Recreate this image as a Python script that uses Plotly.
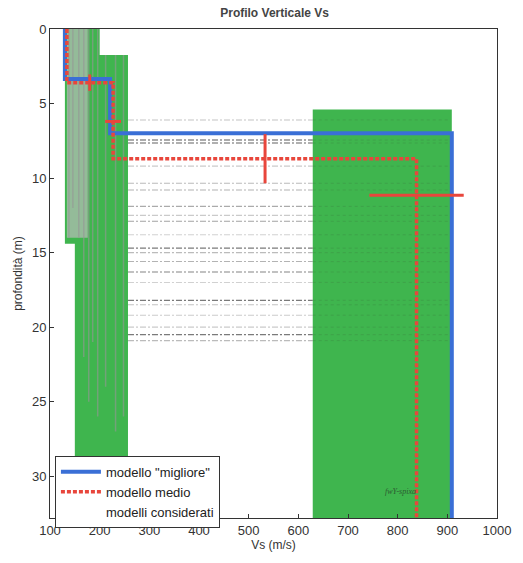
import plotly.graph_objects as go

# ---- data ----
# best model ("migliore"): layer Vs (m/s) and interface depths (m)
best_vs = [130, 221, 909]
best_depths = [3.35, 7.0]
# mean model ("medio")
mean_vs = [134, 227, 838]
mean_depths = [3.6, 8.7]
# uncertainty crosses on the mean model: centre Vs, centre depth, ±Vs, ±depth
err_vs = [180, 227, 533, 838]
err_depth = [3.6, 6.2, 8.7, 11.15]
err_dvs = [0, 16, 0, 95]
err_ddepth = [0.55, 0, 1.65, 0]
# envelopes of the considered models (polygons: Vs list, depth list)
env_left_vs = [130, 200, 200, 257, 257, 150, 150, 130]
env_left_depth = [0, 0, 1.75, 1.75, 32.8, 32.8, 14.4, 14.4]
env_right_vs = [629, 909, 909, 629]
env_right_depth = [5.4, 5.4, 32.8, 32.8]
# interfaces of the considered models (depth, darkness 0..1)
iface_depth = [6.1, 7.45, 7.65, 9.2, 10.35, 10.8, 11.9, 12.5, 12.9, 13.8,
               14.7, 15.0, 15.6, 16.3, 17.0, 18.2, 18.5, 19.2, 20.0, 20.5, 20.9]
iface_dark = [0.35, 0.9, 0.85, 0.3, 0.4, 0.45, 0.5, 0.3, 0.55, 0.25,
              0.75, 0.4, 0.45, 0.7, 0.25, 0.75, 0.35, 0.3, 0.3, 0.75, 0.4]
# shallow layers of the considered models (Vs, depth top, depth bottom)
shallow_vs = [138, 146, 158, 168, 178, 186, 196, 212, 232, 248]
shallow_top = [0, 0, 0, 0, 0, 0, 0, 1.75, 1.75, 1.75]
shallow_bottom = [14.0, 12.0, 14.0, 22.0, 25.0, 21.0, 26.0, 24.0, 27.0, 26.0]

x_ticks = [100, 200, 300, 400, 500, 600, 700, 800, 900, 1000]
y_ticks = [0, 5, 10, 15, 20, 25, 30]
y_max = 32.8
x_min, x_max = 100, 1000


def step(vs, depths, bottom):
    xs, ys = [], []
    tops = [0] + depths
    bots = depths + [bottom]
    for v, t, b in zip(vs, tops, bots):
        xs += [v, v]
        ys += [t, b]
    return xs, ys


GREEN = "#3fb54e"
fig = go.Figure()

# considered-model envelopes
fig.add_trace(go.Scatter(x=env_left_vs, y=env_left_depth, fill="toself", fillcolor=GREEN,
                         line=dict(width=0), mode="lines", showlegend=False, hoverinfo="skip"))
fig.add_trace(go.Scatter(x=env_right_vs, y=env_right_depth, fill="toself", fillcolor=GREEN,
                         line=dict(width=0), mode="lines", showlegend=False, hoverinfo="skip"))
# grey overlap in the shallow band
fig.add_trace(go.Scatter(x=[134, 176, 176, 134], y=[0, 0, 14.0, 14.0], fill="toself",
                         fillcolor="rgba(185,190,185,0.7)", line=dict(width=0), mode="lines",
                         showlegend=False, hoverinfo="skip"))
for v, t, b in zip(shallow_vs, shallow_top, shallow_bottom):
    fig.add_trace(go.Scatter(x=[v, v], y=[t, b], mode="lines",
                             line=dict(color="rgba(150,150,150,0.6)", width=1.5),
                             showlegend=False, hoverinfo="skip"))
# interfaces of considered models
for d, k in zip(iface_depth, iface_dark):
    g = int(190 - 150 * k)
    fig.add_trace(go.Scatter(x=[257, 629], y=[d, d], mode="lines",
                             line=dict(color=f"rgba({g},{g},{g},{0.3 + 0.6 * k})", width=1.1,
                                       dash="6px,2px,2px,2px"),
                             showlegend=False, hoverinfo="skip"))
    fig.add_trace(go.Scatter(x=[629, 905], y=[d, d], mode="lines",
                             line=dict(color="rgba(60,110,60,0.25)", width=1, dash="dot"),
                             showlegend=False, hoverinfo="skip"))

# best model
bx, by = step(best_vs, best_depths, y_max)
fig.add_trace(go.Scatter(x=bx, y=by, mode="lines", name='modello "migliore"',
                         line=dict(color="#3a6fd6", width=4)))
# mean model
mx, my = step(mean_vs, mean_depths, y_max)
fig.add_trace(go.Scatter(x=mx, y=my, mode="lines", name="modello medio",
                         line=dict(color="#e8463c", width=3.5, dash="4px,2px")))
# considered models legend entry (no visible line)
fig.add_trace(go.Scatter(x=[None], y=[None], mode="lines", name="modelli considerati",
                         line=dict(color="rgba(255,255,255,0)", width=2)))
# uncertainty crosses
fig.add_trace(go.Scatter(x=err_vs, y=err_depth, mode="markers", marker=dict(size=1, color="#e8463c"),
                         error_x=dict(type="data", array=err_dvs, color="#e8463c", thickness=3, width=0),
                         error_y=dict(type="data", array=err_ddepth, color="#e8463c", thickness=3, width=0),
                         showlegend=False, hoverinfo="skip"))

fig.add_annotation(x=805, y=31.0, text="<i>fwY-spixa</i>", showarrow=False,
                   font=dict(size=8, color="#2c5a30", family="Liberation Serif"),
                   xanchor="center")

axis_common = dict(showline=True, linecolor="#333", linewidth=1, mirror=True, ticks="inside",
                   ticklen=4, tickcolor="#333", showgrid=False, zeroline=False,
                   tickfont=dict(size=13, color="#333"))
fig.update_xaxes(range=[x_min, x_max], tickvals=x_ticks, title=dict(text="Vs (m/s)", standoff=3,
                 font=dict(size=12, color="#333")), **axis_common)
fig.update_yaxes(range=[y_max, 0], tickvals=y_ticks, title=dict(text="profondità (m)", standoff=6,
                 font=dict(size=12, color="#333")), **axis_common)

fig.update_layout(
    width=523, height=563,
    margin=dict(l=50, r=26, t=29, b=45),
    paper_bgcolor="white", plot_bgcolor="white",
    font=dict(family="Liberation Sans, Arial, sans-serif", color="#333"),
    title=dict(text="<b>Profilo Verticale Vs</b>", x=0.525, xanchor="center", y=0.977, yanchor="middle",
               font=dict(size=12, color="#444")),
    legend=dict(x=0.011, y=0.127, xanchor="left", yanchor="top", bgcolor="white",
                bordercolor="#333", borderwidth=1, font=dict(size=13, color="#222"),
                tracegroupgap=0, itemwidth=40),
)

fig.write_html("out.html")
